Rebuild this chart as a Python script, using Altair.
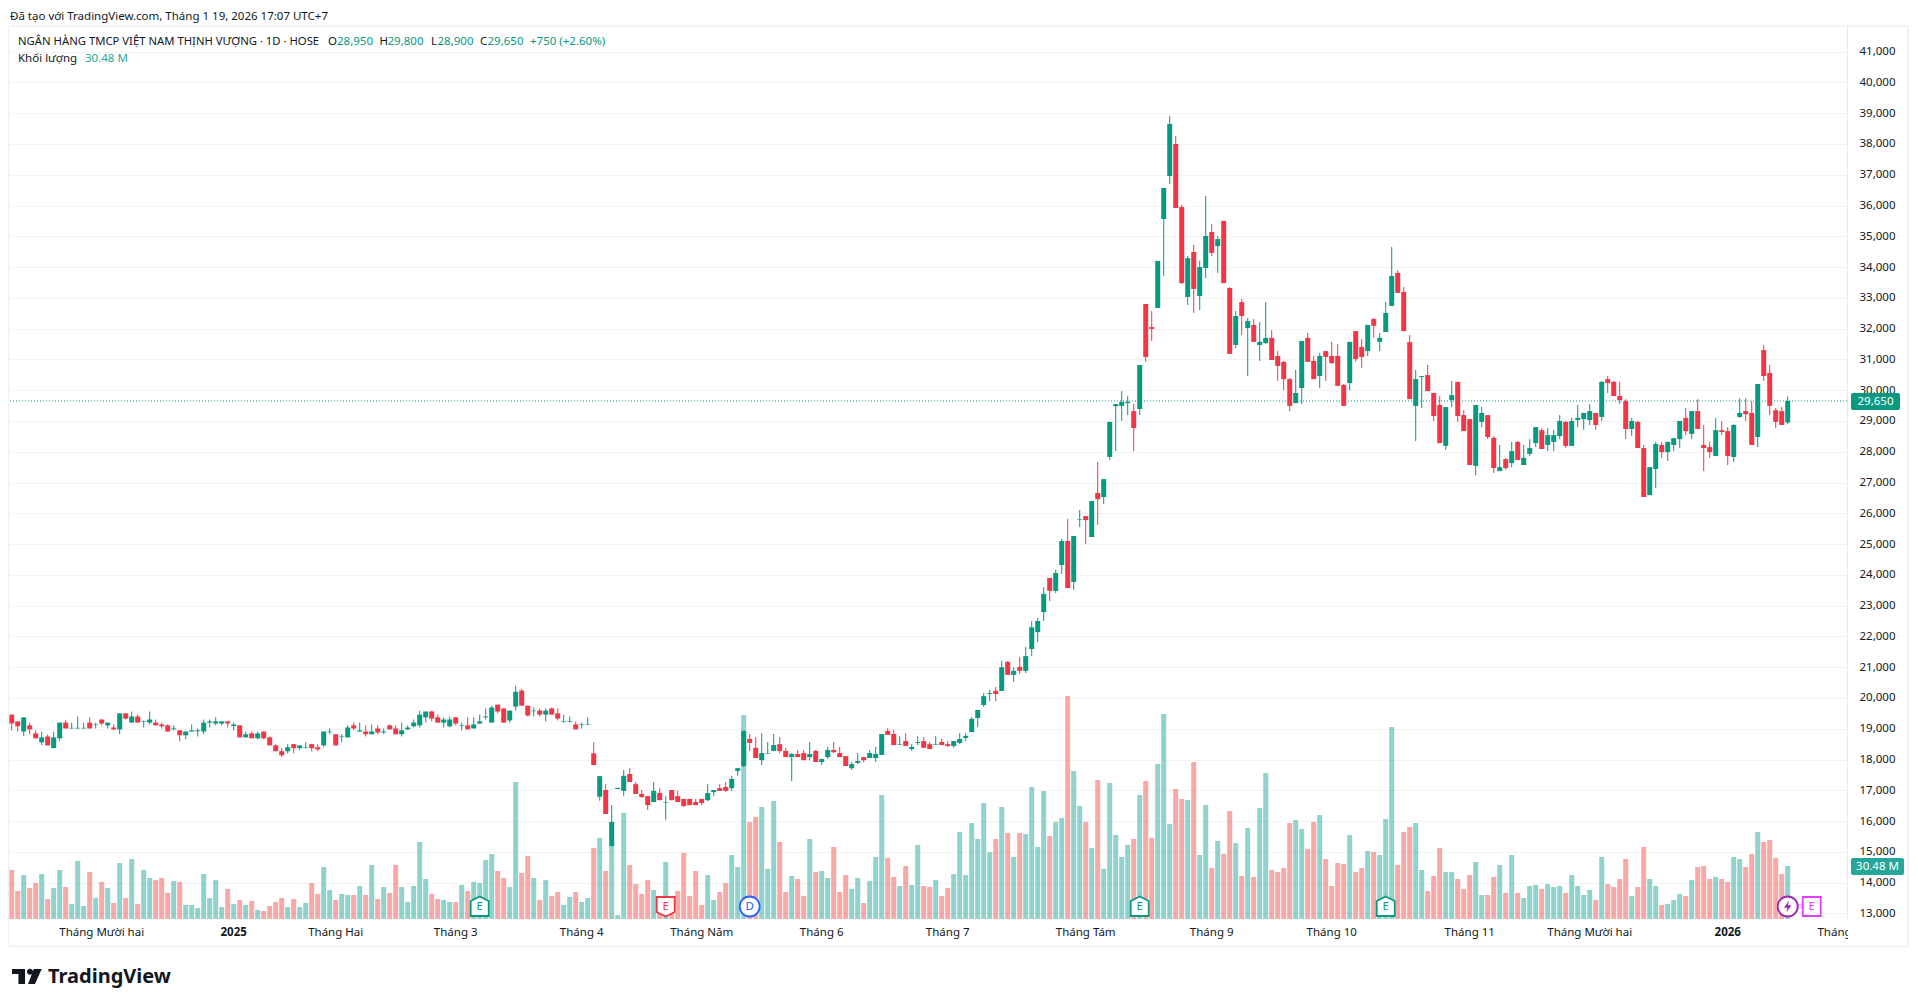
import altair as alt
import pandas as pd

opens = [
19460,19240,18910,19110,18850,18560,18750,18370,18690,19200,
19010,19010,19010,19200,19120,19300,19110,19040,18980,19500,
19200,19400,19220,19200,19200,19140,19110,18980,18950,18790,
18910,18920,18910,19200,19170,19170,19240,19090,19110,18720,
18850,18690,18910,18720,18460,18270,18270,18500,18370,18370,
18500,18400,18460,18890,18820,18730,18720,19110,18910,18910,
18820,19010,18880,19110,19010,18820,18980,19080,19110,19370,
19560,19370,19200,19080,19370,19090,19110,19010,19170,19370,
19200,19780,19660,19270,19720,20240,19750,19570,19590,19460,
19660,19500,19220,19220,19140,19120,19120,18200,16790,17010,
15190,17040,16980,17530,17200,16880,16810,16620,16910,16600,
17010,16810,16720,16720,16620,16720,16680,16940,17070,17110,
17070,17630,17790,18670,18380,17980,18190,18280,18500,18280,
18080,18180,18210,18080,18280,17920,18080,18310,18210,18110,
17720,17890,18080,18050,18050,18150,18930,18830,18480,18600,
18340,18540,18600,18500,18480,18570,18500,18440,18540,18700,
18890,19350,19770,20130,20230,20230,21170,20750,21010,20880,
21590,22140,22790,23900,23480,24320,25100,23770,25790,25910,
25230,26660,26530,27830,29480,29490,29580,29320,29390,32800,
32050,32670,35560,36960,38000,35950,33030,34490,33060,33970,
35140,34680,35500,33320,31470,32860,32020,32120,31470,31530,
31700,31110,30920,30360,29580,30070,31700,30950,30460,31270,
31110,31110,30170,30230,31920,31400,31270,32310,31570,31890,
32740,33810,33190,31560,29490,30430,30490,29910,29520,28190,
29680,30270,29190,29060,27540,28970,29190,28450,27370,27760,
27630,28320,27570,27930,28280,28700,28220,28320,28510,28970,
28190,29030,29060,29030,29260,29130,30360,30270,29810,29650,
28740,28970,28120,26590,27440,28220,27990,28220,28410,29100,
28580,29320,28220,28150,27860,28700,28670,27830,29130,29320,
29260,28480,31300,30560,29350,29320,28950]

highs = [
19460,19240,19370,19200,18950,18910,18820,18910,19200,19290,
19200,19400,19200,19370,19200,19300,19200,19140,19500,19500,
19560,19460,19270,19560,19300,19200,19140,19110,18950,18910,
19140,19010,19300,19300,19370,19240,19240,19200,19110,18910,
18910,18910,18910,18750,18500,18370,18500,18500,18460,18560,
18500,18500,18910,19010,18820,18820,19110,19200,19200,19110,
19140,19110,19010,19140,19110,19200,19110,19300,19590,19560,
19590,19460,19370,19400,19370,19200,19370,19370,19460,19660,
19750,19780,19660,19590,20400,20300,19750,19690,19660,19660,
19690,19660,19460,19400,19240,19200,19370,18560,17460,17200,
16520,17080,17660,17720,17270,17010,16810,17270,17070,16810,
17010,16980,16720,16720,16720,16720,17200,17010,17200,17270,
17470,17720,18930,18830,18730,18860,18570,18830,18730,18380,
18210,18310,18310,18570,18310,18020,18410,18570,18410,18110,
17920,18210,18080,18310,18410,18830,19020,18960,18760,18860,
18500,18760,18730,18570,18760,18670,18600,18600,18860,18860,
19380,19610,20160,20260,20360,21200,21200,21010,21330,21660,
22500,22600,23600,23900,24160,25170,25820,25260,26110,25910,
26400,27670,27110,28970,29550,29970,29810,29550,30820,32800,
32570,34200,36570,38910,38260,36020,34360,34720,34200,36310,
35400,35010,35500,33350,32570,32960,32350,32310,32210,32860,
31950,31270,30950,30400,30660,31600,31860,31110,31210,31270,
31570,31500,30200,31570,31920,31660,32120,32350,31860,32860,
34650,33900,33350,31790,30650,30460,30820,29910,29810,29450,
30300,30270,29350,29060,29520,29450,29190,28510,28220,27800,
28320,28350,28220,28410,28800,28770,28770,28700,29190,29000,
29100,29520,29260,29550,29260,30300,30460,30300,30270,29710,
29100,29000,28220,27500,28320,28320,28320,28440,29000,29420,
29320,29710,28870,28320,29100,29000,28800,28900,29740,29740,
29650,30200,31470,30820,29420,29450,29800]

lows = [
18950,18910,18760,18820,18690,18460,18460,18370,18590,19010,
19010,19010,19010,19010,19010,19110,19010,18950,18820,19300,
19200,19200,19040,19140,19110,19010,18910,18950,18590,18660,
18910,18750,18820,19040,19110,19110,19040,18950,18720,18720,
18690,18660,18660,18460,18270,18080,18200,18200,18300,18370,
18270,18270,18400,18820,18460,18560,18720,18950,18910,18750,
18820,18820,18820,18980,18820,18750,18950,19040,19040,19200,
19240,19200,19040,19040,19110,18950,18980,19010,19140,19300,
19200,19500,19200,19200,19590,19750,19400,19400,19400,19240,
19460,19270,19200,19200,18980,19010,19120,17820,16660,16230,
15170,17040,16810,17270,16880,16750,16360,16620,16680,16040,
16680,16620,16460,16520,16520,16520,16650,16810,16980,16950,
16980,17470,17760,18280,18050,17820,18180,18280,18210,18080,
17300,18080,17980,17980,17920,17820,18020,18210,18080,17790,
17660,17850,17920,18050,17920,18150,18800,18470,18470,18440,
18280,18470,18380,18340,18470,18470,18410,18380,18500,18600,
18890,19060,19710,19900,19900,20230,20750,20520,20780,20810,
21360,21820,22500,23150,23410,24030,23570,23510,25550,25000,
25230,25620,26300,27730,28020,29000,29190,28020,29190,30920,
31600,32670,33710,36700,35920,33450,32770,32510,32600,33640,
34360,33810,33480,31180,31370,31790,30460,31570,30950,31500,
30980,30300,30000,29320,29580,29550,30920,30360,30070,30300,
30850,30140,29490,30000,30920,30720,31110,31700,31270,31890,
32740,33160,31920,29710,28350,29420,29970,29000,28280,28060,
29450,28970,28670,27570,27240,28800,28410,27310,27370,27410,
27500,27730,27570,27860,28150,28090,28020,28020,28410,28120,
28190,28800,28710,28870,28710,29000,29910,29810,29550,28410,
28510,28120,26530,26590,26820,27800,27700,28020,28120,28540,
28410,28740,27370,27800,27860,28540,27570,27670,29100,29000,
28220,28150,30300,29190,28770,28870,28900]

closes = [
19170,19080,19370,18980,18690,18720,18460,18720,19200,19010,
19030,19030,19030,19010,19140,19170,19200,18980,19500,19330,
19400,19200,19240,19300,19110,19080,18910,19010,18790,18910,
18950,18950,19200,19240,19240,19240,19170,19140,18720,18820,
18690,18850,18690,18460,18270,18140,18400,18370,18460,18390,
18370,18330,18910,18910,18460,18750,19040,19010,18950,18820,
18910,18880,18910,18980,18820,18950,19040,19200,19460,19560,
19330,19200,19300,19300,19170,19110,18980,19140,19240,19400,
19690,19560,19200,19590,20200,19750,19430,19590,19460,19590,
19460,19330,19240,19240,18980,19140,19140,17820,17460,16230,
15970,17080,17470,17270,16880,16780,16520,16980,16680,16620,
16680,16620,16490,16520,16520,16590,16910,17010,16980,16980,
17370,17720,18930,18540,18050,18210,18210,18470,18280,18080,
18180,18080,17980,18180,17920,18020,18310,18240,18080,17790,
17850,17950,17980,18210,18180,18830,18800,18470,18500,18440,
18410,18570,18380,18340,18500,18470,18440,18600,18670,18770,
19320,19610,20060,20160,20130,21000,20750,20880,20880,21360,
22300,22500,23380,23480,24060,25100,23570,25260,25810,25780,
26400,26460,27110,28970,29550,29620,29620,28770,30820,31080,
31990,34200,36570,38650,35920,33480,34290,33290,34000,35010,
34460,34910,33480,31180,32410,32410,32250,31570,31570,31700,
30980,30790,30360,29490,29910,31600,30920,30360,31110,31080,
30880,30140,29490,31570,31010,31080,32120,32090,31700,32510,
33710,33160,31920,29710,30360,30460,29970,29160,28280,29450,
29840,29160,28670,27570,29520,29260,28480,27470,27500,27470,
28020,27730,27800,28120,28800,28090,28540,28540,29000,28190,
29000,29100,29260,29320,28870,30270,30230,29810,29680,28740,
29000,28120,26530,27500,28250,27990,28320,28440,29000,28670,
29320,28740,28120,27990,28700,28640,27860,28870,29260,29220,
28220,30200,30460,29490,28970,28870,29650]

volumes = [
28.2,16.1,25.3,17.8,20.7,25.9,11.5,17.8,28.2,18.4,
8.6,33.4,7.5,27.0,12.1,21.3,17.8,9.2,32.2,12.1,
34.5,8.6,28.2,23.6,22.4,23.6,15.0,21.9,21.3,8.1,
8.1,6.3,25.9,12.1,22.4,6.9,17.3,8.6,10.9,8.1,
10.4,5.2,4.6,7.5,9.8,12.1,6.9,11.5,6.9,9.2,
20.7,14.4,29.9,16.7,10.9,14.4,13.8,13.8,19.0,13.8,
31.1,11.5,18.4,15.0,31.1,18.4,9.8,19.0,44.3,23.0,
14.4,11.5,10.9,9.8,9.8,19.6,16.1,21.3,20.7,33.9,
37.4,27.6,23.6,18.4,78.8,26.5,36.2,23.6,10.9,22.4,
13.2,15.5,8.1,12.7,15.5,9.8,12.1,40.8,46.6,27.6,
42.0,2.3,61.0,31.1,20.1,14.4,22.4,16.7,12.5,32.8,
11.9,16.1,38.0,13.2,27.6,8.1,25.3,10.9,15.5,20.7,
36.8,29.9,117.3,55.8,58.7,64.4,28.8,67.9,44.3,15.5,
24.7,23.0,13.2,46.0,27.0,27.6,23.6,41.4,15.5,25.3,
17.3,23.6,9.2,21.9,35.7,71.3,35.1,24.2,19.0,30.5,
19.6,42.6,19.0,18.4,22.4,13.2,17.8,25.9,50.0,25.3,
55.2,46.0,66.7,38.5,46.0,64.4,49.5,35.7,49.5,48.9,
75.9,41.4,73.6,47.7,55.8,58.1,128.2,85.1,65.0,55.8,
40.8,79.9,28.8,78.2,48.3,35.7,42.6,46.0,71.3,79.4,
46.6,89.1,117.9,54.6,74.8,69.0,68.4,90.3,36.8,65.6,
29.3,44.9,37.4,62.1,43.7,24.7,52.3,24.2,63.8,84.0,
28.2,27.0,29.3,55.2,56.9,51.8,40.3,55.8,59.8,34.5,
19.0,32.2,31.6,48.3,27.0,29.3,39.1,38.5,36.8,57.5,
110.4,31.1,50.0,52.9,55.2,28.2,16.1,24.7,40.8,27.0,
27.0,23.0,17.3,25.3,32.8,13.8,13.8,24.2,31.1,15.0,
36.8,15.0,12.1,19.0,19.6,17.3,20.1,18.4,19.0,15.0,
25.3,19.0,13.8,16.7,10.9,35.7,20.1,18.4,23.0,34.5,
13.2,18.4,41.4,23.0,19.0,8.1,8.6,10.9,14.4,13.2,
22.4,29.9,30.5,23.0,24.2,23.0,21.3,35.7,34.5,29.9,
37.4,50.0,44.3,45.4,35.1,25.9,30.48]

month_pos = [15, 37, 54, 74, 95, 115, 135, 156, 179, 200, 220, 243, 263, 286]
month_labels = ["Tháng Mười hai", "2025", "Tháng Hai", "Tháng 3", "Tháng 4", "Tháng Năm", "Tháng 6",
                "Tháng 7", "Tháng Tám", "Tháng 9", "Tháng 10", "Tháng 11", "Tháng Mười hai", "2026"]
next_month_pos = 304.6
next_month_label = "Tháng 2"
price_ticks = list(range(13000, 42000, 1000))

earn_up_idx = [78, 188, 229]
earn_down_idx = [109]
dividend_idx = [123]
split_idx = [296]
next_earn_idx = [300]

UP, DOWN = "#089981", "#F23645"
VOL_UP, VOL_DOWN = "#26A69A", "#EF5350"
FONT = "Noto Sans"
FS = 11.5
TEXT = "#131722"
W, H = 1838, 893
X_DOM = [-0.45, 305.88]
Y_DOM = [12819, 41832]
LAST_PRICE = 29650

df = pd.DataFrame({"i": range(len(opens)), "o": opens, "h": highs, "l": lows, "c": closes, "v": volumes})
df["dir"] = ["up" if c >= o else "down" for o, c in zip(opens, closes)]

xs = alt.Scale(domain=X_DOM, nice=False, zero=False, padding=0)
ys = alt.Scale(domain=Y_DOM, nice=False, zero=False, padding=0)
color = alt.Color("dir:N", scale=alt.Scale(domain=["up", "down"], range=[UP, DOWN]), legend=None)
vol_color = alt.Color("dir:N", scale=alt.Scale(domain=["up", "down"], range=[VOL_UP, VOL_DOWN]), legend=None)

base = alt.Chart(df)
x_none = alt.X("i:Q", scale=xs, axis=None)
y_none = lambda f: alt.Y(f, scale=ys, axis=None, title=None)

volume = base.mark_bar(size=5, opacity=0.5, orient="vertical").encode(
    x=alt.X("i:Q", scale=xs, title=None, axis=alt.Axis(values=month_pos, labels=False, ticks=False, domain=False,
                                                       grid=True, gridColor="#f1f2f4", gridWidth=1)),
    y=alt.Y("v:Q", scale=alt.Scale(domain=[0, 513.5], nice=False, zero=False, padding=0), axis=None, title=None),
    color=vol_color,
)
wick = base.mark_rule(strokeWidth=1).encode(
    x=x_none,
    y=alt.Y("l:Q", scale=ys, title=None,
            axis=alt.Axis(orient="right", values=price_ticks, format=",d", labelFont=FONT, labelFontSize=FS,
                          labelColor=TEXT, labelPadding=12, ticks=False, domain=True, domainColor="#e8e9ec",
                          grid=True, gridColor="#f3f3f4", gridWidth=1)),
    y2="h:Q", color=color,
)
body = base.mark_bar(size=5, orient="vertical").encode(x=x_none, y=y_none("o:Q"), y2="c:Q", color=color)
last_line = alt.Chart(pd.DataFrame({"p": [LAST_PRICE]})).mark_rule(color=UP, strokeWidth=1, strokeDash=[1, 2]).encode(
    y=alt.Y("p:Q", scale=ys, axis=None, title=None))


def one():
    return alt.Chart(pd.DataFrame({"a": [0]}))


def txt(s, px, py, color=TEXT, size=FS, weight="normal", align="left", font=FONT):
    return one().mark_text(align=align, baseline="middle", font=font, fontSize=size, fontWeight=weight,
                           color=color).encode(x=alt.value(px - 9), y=alt.value(py - 26), text=alt.value(s))


def box(x0, x1, y0, y1, color, radius=2):
    return one().mark_rect(color=color, cornerRadius=radius).encode(
        x=alt.value(x0 - 9), x2=alt.value(x1 - 9), y=alt.value(y0 - 26), y2=alt.value(y1 - 26))


def frame(x0, x1, y0, y1):
    return one().mark_rule(color="#f0f1f3", strokeWidth=1.5).encode(
        x=alt.value(x0 - 9), x2=alt.value(x1 - 9), y=alt.value(y0 - 26), y2=alt.value(y1 - 26))


def pin(idx, path, stroke, label, py=906.5, size=400, fill="white"):
    d = pd.DataFrame({"i": idx, "t": [label] * len(idx)})
    m = alt.Chart(d).mark_point(shape=path, size=size, fill=fill, stroke=stroke, strokeWidth=1.8, opacity=1,
                                filled=False, fillOpacity=1).encode(x=x_none, y=alt.value(py - 26))
    t = alt.Chart(d).mark_text(font=FONT, fontSize=FS, color=stroke, baseline="middle").encode(
        x=x_none, y=alt.value(py - 26), text="t:N")
    return m + t


HOUSE = "M0,-1 L0.9,-0.55 L0.9,0.95 L-0.9,0.95 L-0.9,-0.55 Z"
SHIELD = "M-0.9,-0.95 L0.9,-0.95 L0.9,0.55 L0,1 L-0.9,0.55 Z"
CIRCLE = "circle"
SQUARE = "M-0.9,-0.95 L0.9,-0.95 L0.9,0.95 L-0.9,0.95 Z"
BOLT = "M0.2,-1 L-0.6,0.2 L-0.05,0.2 L-0.2,1 L0.6,-0.2 L0.05,-0.2 Z"
LOGO = ("M-1,-0.5 L-0.13,-0.5 L-0.13,0.5 L-0.57,0.5 L-0.57,-0.17 L-1,-0.17 Z "
        "M0.4,-0.32 A0.2,0.2 0 1 1 0,-0.32 A0.2,0.2 0 1 1 0.4,-0.32 Z "
        "M0.53,0.5 L0.07,0.5 L0.45,-0.5 L0.98,-0.5 Z")

labels_df = pd.DataFrame({"i": month_pos, "t": month_labels})
labels_df["year"] = [t.isdigit() for t in month_labels]
month_text = alt.Chart(labels_df[~labels_df.year]).mark_text(font=FONT, fontSize=FS, color=TEXT, baseline="middle").encode(
    x=x_none, y=alt.value(906.7), text="t:N")
year_text = alt.Chart(labels_df[labels_df.year]).mark_text(font=FONT, fontSize=FS, fontWeight="bold", color=TEXT,
                                                           baseline="middle").encode(
    x=x_none, y=alt.value(906.7), text="t:N")
next_text = alt.Chart(pd.DataFrame({"i": [next_month_pos], "t": [next_month_label]})).mark_text(
    font=FONT, fontSize=FS, color=TEXT, baseline="middle").encode(x=x_none, y=alt.value(906.7), text="t:N")

logo_mark = one().mark_point(shape=LOGO, size=900, fill="#131722", filled=True, opacity=1, strokeWidth=0).encode(
    x=alt.value(27 - 9), y=alt.value(976.5 - 26))

bolt_d = pd.DataFrame({"i": split_idx})
bolt = alt.Chart(bolt_d).mark_point(shape=BOLT, size=150, fill="#9c27b0", filled=True, opacity=1, strokeWidth=0).encode(
    x=x_none, y=alt.value(906.5 - 26))

layers = [
    volume, last_line, wick, body,
    next_text,
    box(1848, 1906, 920, 945, "white", 0),
    month_text, year_text,
    pin(earn_up_idx, HOUSE, UP, "E"),
    pin(earn_down_idx, SHIELD, DOWN, "E"),
    pin(dividend_idx, CIRCLE, "#2962FF", "D"),
    pin(next_earn_idx, SQUARE, "#e040fb", "E"),
    txt("≈", 1801, 906.5, "#e040fb", 11, "normal", "center"),
    pin(split_idx, CIRCLE, "#9c27b0", ""),
    bolt,
    box(1851, 1900, 393, 410, UP),
    txt("29,650", 1875.5, 401.5, "white", FS, "normal", "center"),
    box(1851, 1904, 858, 875, VOL_UP),
    txt("30.48 M", 1877.5, 866.5, "white", FS, "normal", "center"),
    frame(8.5, 1908, 26, 26), frame(8.5, 1908, 946.5, 946.5), frame(8.5, 8.5, 26, 946.5), frame(1908, 1908, 26, 946.5),
    txt("Đã tạo với TradingView.com, Tháng 1 19, 2026 17:07 UTC+7", 10, 16.5),
    txt("NGÂN HÀNG TMCP VIỆT NAM THỊNH VƯỢNG · 1D · HOSE", 18, 41.5, size=11.3),
    txt("O", 328, 41.5), txt("28,950", 337, 41.5, UP),
    txt("H", 379.5, 41.5), txt("29,800", 387.5, 41.5, UP),
    txt("L", 431, 41.5), txt("28,900", 437.5, 41.5, UP),
    txt("C", 480, 41.5), txt("29,650", 487.5, 41.5, UP),
    txt("+750 (+2.60%)", 530, 41.5, UP),
    txt("Khối lượng", 18, 59), txt("30.48 M", 85, 59, VOL_UP),
    logo_mark,
    txt("TradingView", 48, 977, "#131722", 20, "bold", font="Noto Sans"),
]

chart = alt.layer(*layers).resolve_scale(y="independent", color="independent").properties(
    width=W, height=H,
    autosize=alt.AutoSizeParams(type="none"),
    padding={"left": 1, "top": 18, "right": 63, "bottom": 70},
    background="white",
).configure_view(stroke=None)

chart.save("out.html", embed_options={"renderer": "svg", "actions": False})
